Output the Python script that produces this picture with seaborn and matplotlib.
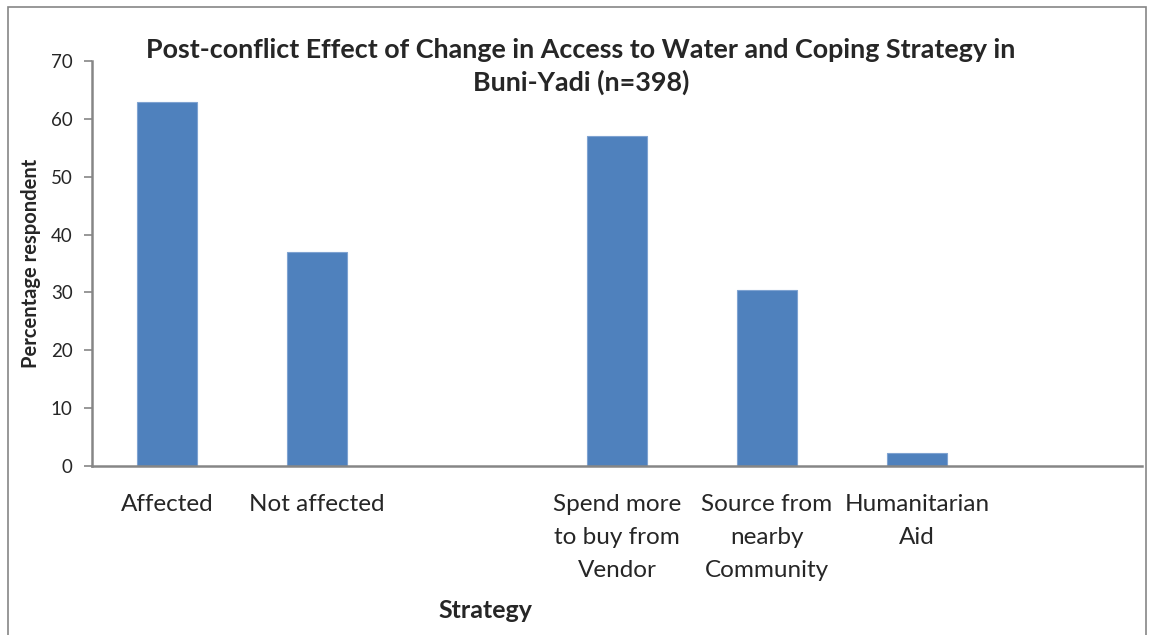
import matplotlib
matplotlib.use("Agg")
import matplotlib.pyplot as plt
import seaborn as sns
import pandas as pd
from matplotlib.patches import Rectangle

# Data
categories = ["Affected", "Not affected", "gap1",
              "Spend more\nto buy from\nVendor", "Source from\nnearby\nCommunity",
              "Humanitarian\nAid", "gap2"]
tick_labels = ["Affected", "Not affected", "",
               "Spend more\nto buy from\nVendor", "Source from\nnearby\nCommunity",
               "Humanitarian\nAid", ""]
bar_categories = ["Affected", "Not affected",
                  "Spend more\nto buy from\nVendor", "Source from\nnearby\nCommunity",
                  "Humanitarian\nAid"]
percentages = [63, 37, 57, 30.5, 2.3]
y_ticks = [0, 10, 20, 30, 40, 50, 60, 70]

sns.set_theme(style="white")
plt.rcParams["font.family"] = ["Lato", "DejaVu Sans"]

df = pd.DataFrame({"strategy": bar_categories, "pct": percentages})

fig = plt.figure(figsize=(11.53, 6.35), dpi=100)
ax = fig.add_axes([92 / 1153, 1 - 466 / 635, (1142 - 92) / 1153, (466 - 61) / 635])

sns.barplot(data=df, x="strategy", y="pct", order=categories, color="#4F81BD",
            width=0.4, saturation=1, edgecolor="#7FA3D1", linewidth=0.8, ax=ax)

ax.set_xlim(-0.5, len(categories) - 0.5)
ax.set_ylim(0, 70)
ax.set_yticks(y_ticks)
ax.set_yticklabels([str(t) for t in y_ticks], fontsize=13.5)
ax.set_xticks(range(len(categories)))
ax.set_xticklabels(tick_labels, fontsize=17.5, linespacing=1.7, va="top")
ax.tick_params(axis="x", length=0, pad=20)
ax.tick_params(axis="y", length=6, width=1.2, color="#868686", direction="out", pad=8, left=True)

for s in ["top", "right"]:
    ax.spines[s].set_visible(False)
for s in ["left", "bottom"]:
    ax.spines[s].set_color("#868686")
    ax.spines[s].set_linewidth(1.8)

ax.set_xlabel("")
ax.set_ylabel("Percentage respondent", fontsize=14.5, fontweight="bold", labelpad=7)

fig.text(0.504, 1 - 66.5 / 635,
         "Post-conflict Effect of Change in Access to Water and Coping Strategy in\nBuni-Yadi (n=398)",
         ha="center", va="center", fontsize=19.4, fontweight="bold", linespacing=1.37)
fig.text(485 / 1153, 1 - 610 / 635, "Strategy", ha="center", va="center",
         fontsize=18, fontweight="bold")

# Outer chart frame
fig.patches.append(Rectangle((8 / 1153, -0.05), (1146 - 8) / 1153, 1.05 - 7 / 635,
                             transform=fig.transFigure, fill=False,
                             edgecolor="#868686", linewidth=1.2))

fig.savefig("out.png", dpi=100)
